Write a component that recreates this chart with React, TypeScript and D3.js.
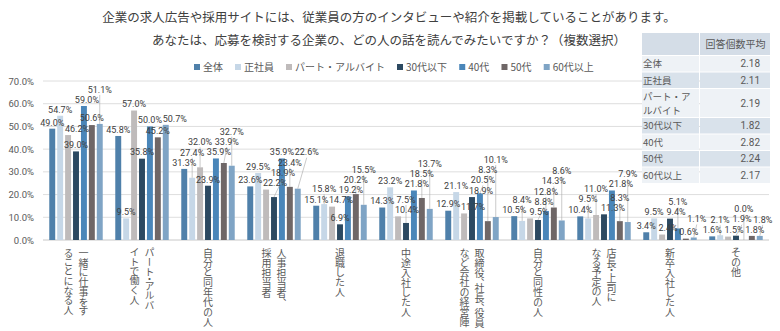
import React, { useEffect, useMemo } from "react";
import * as d3 from "d3";

const W = 780;
const H = 331;
const FONT = '"Noto Sans CJK JP", "Noto Sans", sans-serif';
const NUMFONT = 'Roboto, "Liberation Sans", sans-serif';

const titleLines = [
  "企業の求人広告や採用サイトには、従業員の方のインタビューや紹介を掲載していることがあります。",
  "あなたは、応募を検討する企業の、どの人の話を読んでみたいですか？（複数選択）",
];

const categories = [
  "一緒に仕事をす\nることになる人",
  "パート・アルバ\nイトで働く人",
  "自分と同年代の人",
  "人事担当者、\n採用担当者",
  "退職した人",
  "中途入社した人",
  "取締役、社長、役員\nなど会社の経営陣",
  "自分と同性の人",
  "店長・上司に\nなる予定の人",
  "新卒入社した人",
  "その他",
];

const seriesNames = ["全体", "正社員", "パート・アルバイト", "30代以下", "40代", "50代", "60代以上"];

const valuesAll = [49.0, 45.8, 31.3, 23.6, 15.1, 14.3, 12.9, 10.5, 10.4, 3.4, 1.6];
const valuesRegular = [54.7, 9.5, 27.4, 29.5, 15.8, 23.2, 21.1, 8.4, 9.5, 9.5, 2.1];
const valuesPart = [46.2, 57.0, 32.0, 22.2, 14.7, 10.4, 11.7, 9.5, 11.0, 2.4, 1.5];
const values30s = [39.0, 35.8, 23.9, 18.9, 6.9, 7.5, 18.9, 8.8, 11.3, 9.4, 1.9];
const values40s = [59.0, 50.0, 35.9, 35.9, 19.2, 21.8, 20.5, 12.8, 21.8, 5.1, 0.0];
const values50s = [50.6, 45.2, 33.9, 23.4, 20.2, 18.5, 8.3, 14.3, 8.3, 0.6, 1.8];
const values60s = [51.1, 50.7, 32.7, 22.6, 15.5, 13.7, 10.1, 8.6, 7.9, 1.1, 1.8];

const seriesValues = [valuesAll, valuesRegular, valuesPart, values30s, values40s, values50s, values60s];

const yTicks = [0, 10, 20, 30, 40, 50, 60, 70];

const tableHeader = "回答個数平均";
const tableRowLabels = ["全体", "正社員", "パート・アルバイト", "30代以下", "40代", "50代", "60代以上"];
const avgAnswers = [2.18, 2.11, 2.19, 1.82, 2.82, 2.24, 2.17];

const seriesColors = ["#4f80aa", "#c6d7e7", "#bfbbbb", "#2c4961", "#4a86b9", "#6f6767", "#7fa4c5"];

function textWidth(t: string, fs: number) {
  let w = 0;
  for (const ch of t) {
    if (/[0-9]/.test(ch)) w += 0.562 * fs;
    else if (ch === ".") w += 0.27 * fs;
    else if (ch === "%") w += 0.74 * fs;
    else if (/[A-Za-z]/.test(ch)) w += 0.55 * fs;
    else w += fs;
  }
  return w;
}

export default function App() {
  useEffect(() => {
    document.body.style.margin = "0";
  }, []);

  const plot = { left: 43, right: 769, top: 81, bottom: 240 };

  const x0 = d3
    .scaleBand<number>()
    .domain(categories.map((_, i) => i))
    .range([plot.left, plot.right])
    .paddingInner(0.19)
    .paddingOuter(0.095);
  const x1 = d3
    .scaleBand<number>()
    .domain(seriesNames.map((_, i) => i))
    .range([0, x0.bandwidth()])
    .paddingInner(0.25);
  const y = d3.scaleLinear().domain([0, 70]).range([plot.bottom, plot.top]);

  const labelFs = 9;

  const labels = useMemo(() => {
    const placed: { x0: number; x1: number; y0: number; y1: number }[] = [];
    const out: { tx: number; ty: number; text: string; cx: number; top: number; leader: boolean; by: number }[] = [];
    const h = 10;
    seriesValues.forEach((vals, si) => {
      vals.forEach((v, gi) => {
        const cx = (x0(gi) as number) + (x1(si) as number) + x1.bandwidth() / 2;
        const top = y(v);
        const text = v.toFixed(1) + "%";
        const w = textWidth(text, labelFs) + 0.5;
        let res: any = null;
        for (let dy = 0; dy < 120 && !res; dy += 1) {
          for (const dx of [0, -3, 3, -6, 6, -9, 9]) {
            const b = { x0: cx + dx - w / 2, x1: cx + dx + w / 2, y1: top - 1 - dy, y0: top - 1 - dy - h };
            const hit = placed.some((p) => b.x0 < p.x1 && b.x1 > p.x0 && b.y0 < p.y1 && b.y1 > p.y0);
            if (!hit) {
              res = { b, dx, dy };
              break;
            }
          }
        }
        placed.push(res.b);
        out.push({
          tx: cx + res.dx,
          ty: res.b.y1 - 2.2,
          text,
          cx,
          top,
          leader: res.dy > 5,
          by: res.b.y1,
        });
      });
    });
    return out;
  }, []);

  // legend layout
  const legendFs = 10;
  const legendItems = useMemo(() => {
    let xPos = 194;
    return seriesNames.map((name, i) => {
      const item = { name, x: xPos, color: seriesColors[i] };
      xPos += 9 + textWidth(name, legendFs) + 12;
      return item;
    });
  }, []);

  // table layout
  const tableFs = 9.5;
  const tbl = { x0: 642, xs: 699, x1: 770, top: 33, headerH: 22 };
  const tableRows = useMemo(() => {
    let yy = tbl.top + tbl.headerH + 1;
    return tableRowLabels.map((lab, i) => {
      const lines: string[] = [];
      if (lab.length > 6) {
        for (let k = 0; k < lab.length; k += 5) lines.push(lab.slice(k, k + 5));
      } else lines.push(lab);
      const hgt = lines.length > 1 ? 28 : 15.5;
      const row = { lines, y: yy, h: hgt, value: avgAnswers[i], i };
      yy += hgt + 1;
      return row;
    });
  }, []);

  return (
    <svg width={W} height={H} style={{ display: "block", background: "#fff", fontFamily: FONT }}>
      {/* title */}
      {titleLines.map((t, i) => (
        <text key={i} x={389} y={22 + i * 23} textAnchor="middle" fontSize={12.5} fill="#404040">
          {t}
        </text>
      ))}

      {/* legend */}
      {legendItems.map((it, i) => (
        <g key={i}>
          <rect x={it.x} y={64} width={6} height={6} fill={it.color} />
          <text x={it.x + 9} y={71} fontSize={legendFs} fill="#595959">
            {it.name}
          </text>
        </g>
      ))}

      {/* gridlines & y axis */}
      {yTicks.map((t) => (
        <g key={t}>
          <line x1={plot.left} x2={plot.right} y1={y(t)} y2={y(t)} stroke={t === 0 ? "#c8c8c8" : "#dedede"} strokeWidth={1} />
          <text x={34} y={y(t) + 3.5} textAnchor="end" fontSize={9.5} fill="#595959" fontFamily={NUMFONT}>
            {t.toFixed(1) + "%"}
          </text>
        </g>
      ))}

      {/* bars */}
      {seriesValues.map((vals, si) => (
        <g key={si} fill={seriesColors[si]}>
          {vals.map((v, gi) => (
            <rect
              key={gi}
              x={(x0(gi) as number) + (x1(si) as number)}
              y={y(v)}
              width={x1.bandwidth()}
              height={y(0) - y(v)}
            />
          ))}
        </g>
      ))}

      {/* leader lines */}
      {labels.map((l, i) =>
        l.leader ? (
          <line key={"ll" + i} x1={l.tx} y1={l.by} x2={l.cx} y2={l.top} stroke="#a6a6a6" strokeWidth={0.6} />
        ) : null
      )}
      {/* data labels */}
      {labels.map((l, i) => (
        <text
          key={"lb" + i}
          x={l.tx}
          y={l.ty}
          textAnchor="middle"
          fontSize={labelFs}
          fill="#404040"
          fontFamily={NUMFONT}
        >
          {l.text}
        </text>
      ))}

      {/* category labels (vertical) */}
      {categories.map((c, gi) => {
        const lines = c.split("\n");
        const cx = (x0(gi) as number) + x0.bandwidth() / 2;
        const n = lines.length;
        return (
          <g key={gi}>
            {lines.map((ln, k) => (
              <text
                key={k}
                x={cx + ((n - 1) / 2 - k) * 15}
                y={248}
                fontSize={10}
                fill="#595959"
                style={{ writingMode: "vertical-rl" as any, fontFeatureSettings: '"vpal"' }}
              >
                {ln}
              </text>
            ))}
          </g>
        );
      })}

      {/* table */}
      <g>
        <rect x={tbl.x0} y={tbl.top} width={tbl.xs - tbl.x0} height={tbl.headerH} fill="#d4dde7" />
        <rect x={tbl.xs + 1} y={tbl.top} width={tbl.x1 - tbl.xs - 1} height={tbl.headerH} fill="#d4dde7" />
        <text x={(tbl.xs + tbl.x1) / 2 + 1} y={tbl.top + 15} textAnchor="middle" fontSize={10} fill="#595959">
          {tableHeader}
        </text>
        {tableRows.map((r) => {
          const bg = r.i % 2 === 0 ? "#eef2f6" : "#d9e2eb";
          const gap = 14;
          const firstY = r.y + r.h / 2 + 3.5 - ((r.lines.length - 1) / 2) * gap;
          return (
            <g key={r.i}>
              <rect x={tbl.x0} y={r.y} width={tbl.xs - tbl.x0} height={r.h} fill={bg} />
              <rect x={tbl.xs + 1} y={r.y} width={tbl.x1 - tbl.xs - 1} height={r.h} fill={bg} />
              {r.lines.map((ln, k) => (
                <text key={k} x={tbl.x0 + 1} y={firstY + k * gap} fontSize={tableFs} fill="#595959">
                  {ln}
                </text>
              ))}
              <text x={tbl.x1 - 10} y={r.y + r.h / 2 + 3.5} textAnchor="end" fontSize={10} fill="#595959" fontFamily={NUMFONT}>
                {r.value.toFixed(2)}
              </text>
            </g>
          );
        })}
      </g>
    </svg>
  );
}
